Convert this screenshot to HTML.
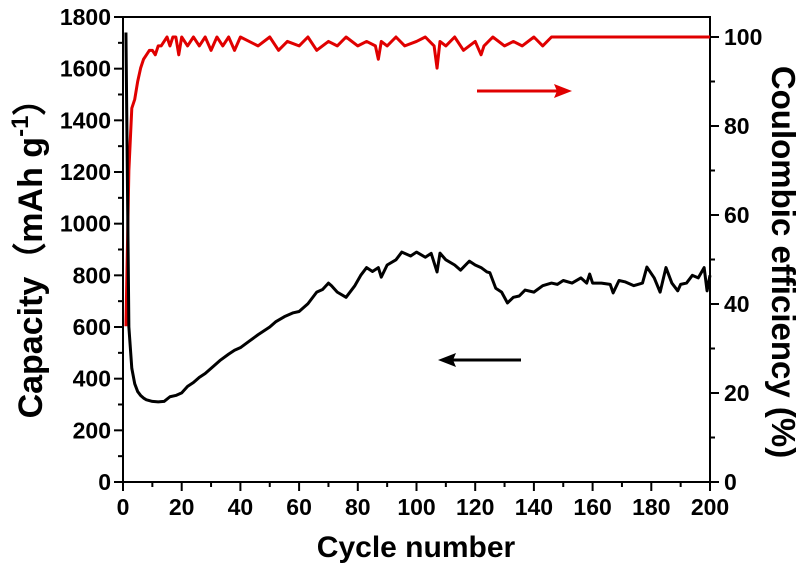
<!DOCTYPE html>
<html><head><meta charset="utf-8"><style>
body{margin:0;background:#fff}
svg text{font-family:"Liberation Sans",Arial,sans-serif;font-weight:bold;fill:#000}
</style></head><body>
<svg id="chart" width="800" height="572" viewBox="0 0 800 572" xmlns="http://www.w3.org/2000/svg">
<g id="axes"></g>
<g id="series"></g>
</svg>
<script>
const capCycles=[1,2,3,4,5,6,7,8,10,12,14,16,18,20,22,24,26,28,30,33,36,38,40,43,46,48,50,52,55,58,60,63,66,68,70,71,73,76,79,81,83,85,87,88,90,93,95,98,100,103,105,107,108,110,113,115,118,120,122,124,125,127,129,131,133,135,137,140,143,146,148,150,153,156,158,159,160,163,166,167,169,171,174,177,178.5,181,183,185,187,189,190,192,194,196,197,198,199,200];
const capValues=[1740,600,440,380,350,335,325,318,312,310,312,330,335,345,370,385,405,420,440,470,495,510,520,545,570,585,600,620,640,655,660,690,735,745,770,760,735,715,760,800,830,815,830,793,840,860,890,875,890,870,885,813,886,860,840,820,855,840,830,813,810,750,735,693,715,720,743,735,760,770,765,780,770,790,770,805,770,770,765,732,780,775,760,770,832,790,735,830,770,740,765,770,800,790,810,830,740,800];
const ceCycles=[1,2,3,4,5,6,7,8,9,10,11,12,13,14,15,16,17,18,19,20,22,24,26,28,30,32,34,36,38,40,43,46,50,53,56,60,63,66,70,73,76,80,83,86,87,88,90,93,96,100,103,106,107,108,110,113,116,120,122,123,126,130,133,136,140,143,146,150,160,180,200];
const ceValues=[35,70,84,86,90,93,95,96,97,97,96,98,98,99,100,98,100,100,96,100,98,100,98,100,97,100,98,100,97,100,99,98,100,97,99,98,100,97,99,98,100,98,99,98,95,99,98,100,98,99,100,98,93,99,98,100,97,99,96,98,100,98,99,98,100,98,100,100,100,100,100];
const xTicks=[0,20,40,60,80,100,120,140,160,180,200];
const yLeftTicks=[0,200,400,600,800,1000,1200,1400,1600,1800];
const yRightTicks=[0,20,40,60,80,100];

const X0=123,X1=710,Y0=482,YT=17;
const xs=c=>X0+c*(X1-X0)/200;
const yl=v=>Y0-v*(Y0-YT)/1800;
const yr=v=>Y0-v*(Y0-37)/100;
const NS='http://www.w3.org/2000/svg';
const ax=document.getElementById('axes'), se=document.getElementById('series');
function mk(tag,attrs,parent,txt){const e=document.createElementNS(NS,tag);for(const k in attrs)e.setAttribute(k,attrs[k]);if(txt!==undefined)e.textContent=txt;parent.appendChild(e);return e;}
let f=mk('path',{d:`M${X0},${YT}H${X1}V${Y0}H${X0}Z`,fill:'none',stroke:'#000','stroke-width':2},ax);


xTicks.forEach((t,i)=>{
  const x=xs(t);
  mk('line',{x1:x,x2:x,y1:Y0,y2:Y0+9,stroke:'#000','stroke-width':2},ax);
  if(i<xTicks.length-1){const xm=xs(t+10);mk('line',{x1:xm,x2:xm,y1:Y0,y2:Y0+5,stroke:'#000','stroke-width':2},ax);}
  const tx=mk('text',{x:x,y:Y0+33,'text-anchor':'middle','font-size':23},ax,t);
  
  
});
yLeftTicks.forEach((t,i)=>{
  const y=yl(t);
  mk('line',{x1:X0-9,x2:X0,y1:y,y2:y,stroke:'#000','stroke-width':2},ax);
  if(i<yLeftTicks.length-1){const ym=yl(t+100);mk('line',{x1:X0-5,x2:X0,y1:ym,y2:ym,stroke:'#000','stroke-width':2},ax);}
  const tx=mk('text',{x:X0-12,y:y+8,'text-anchor':'end','font-size':23},ax,t);
  
  
});
yRightTicks.forEach((t,i)=>{
  const y=yr(t);
  mk('line',{x1:X1,x2:X1+9,y1:y,y2:y,stroke:'#000','stroke-width':2},ax);
  if(i<yRightTicks.length-1){const ym=yr(t+10);mk('line',{x1:X1,x2:X1+5,y1:ym,y2:ym,stroke:'#000','stroke-width':2},ax);}
  const tx=mk('text',{x:X1+14,y:y+8,'text-anchor':'start','font-size':23},ax,t);
  
  
});
let xt=mk('text',{x:416,y:557,'text-anchor':'middle','font-size':30},ax,'Cycle number');


let ylt=mk('text',{x:0,y:0,'text-anchor':'middle','font-size':34,transform:'translate(42,250) rotate(-90)'},ax);


ylt.innerHTML='Capacity（mAh g<tspan dy="-14" font-size="24">-1</tspan><tspan dy="14">）</tspan>';
let yrt=mk('text',{x:0,y:0,'text-anchor':'middle','font-size':33,transform:'translate(772,262) rotate(90)'},ax,'Coulombic efficiency (%)');


let rp=mk('polyline',{points:ceCycles.map((c,i)=>xs(c)+','+yr(ceValues[i])).join(' '),fill:'none',stroke:'#e00000','stroke-width':3,'stroke-linejoin':'round'},se);


let bp=mk('polyline',{points:capCycles.map((c,i)=>xs(c)+','+yl(capValues[i])).join(' '),fill:'none',stroke:'#000','stroke-width':3,'stroke-linejoin':'round'},se);


let ra=mk('g',{},se);


mk('line',{x1:477,x2:560,y1:91,y2:91,stroke:'#e00000','stroke-width':3},ra);
mk('path',{d:'M572,91 L554,84 L557,91 L554,98 Z',fill:'#e00000'},ra);
let ba=mk('g',{},se);


mk('line',{x1:521,x2:450,y1:360,y2:360,stroke:'#000','stroke-width':3},ba);
mk('path',{d:'M438,360 L456,353 L453,360 L456,367 Z',fill:'#000'},ba);
</script>
</body></html>
